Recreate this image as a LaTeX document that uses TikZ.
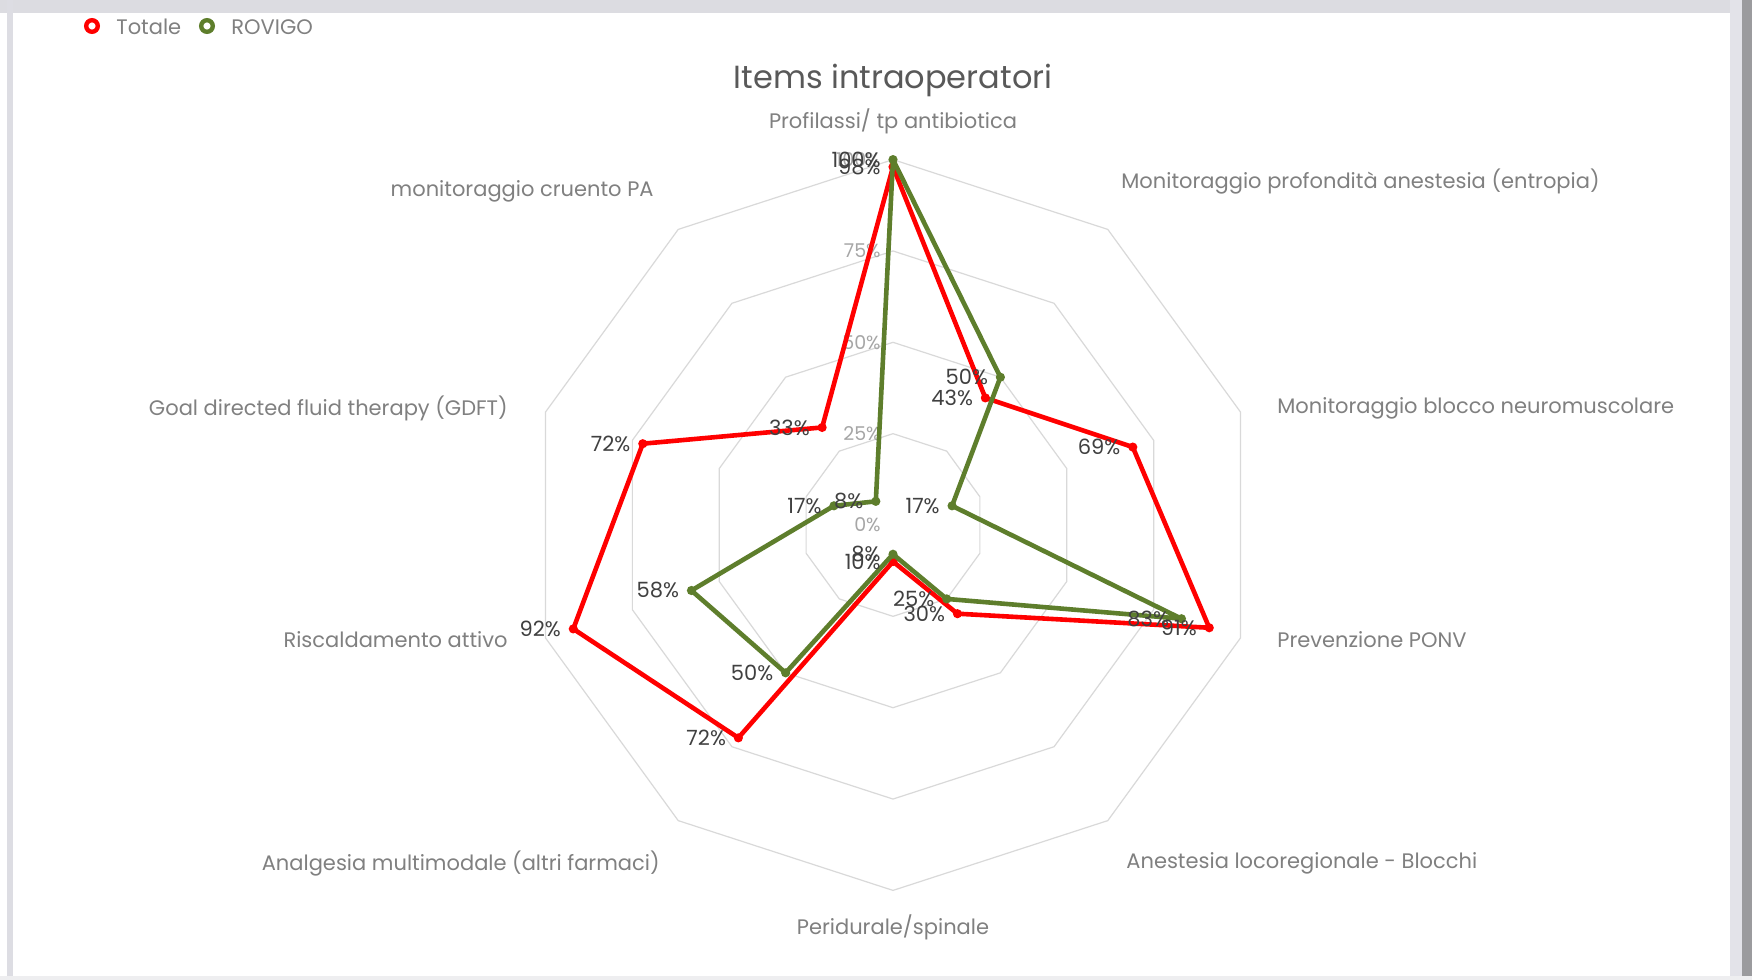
\documentclass[tikz,border=0pt]{standalone}
\usepackage{fontspec}
\setmainfont{Poppins}
\definecolor{totred}{HTML}{FF0000}
\definecolor{rovgreen}{HTML}{5E7E2C}
\definecolor{gridgray}{HTML}{D9D9D9}
\definecolor{axisgray}{HTML}{808080}
\definecolor{ticgray}{HTML}{A6A6A6}
\definecolor{datagray}{HTML}{404040}
\definecolor{titlegray}{HTML}{595959}
\definecolor{frtop}{HTML}{DCDCE1}
\definecolor{frleft}{HTML}{DDDDE3}
\definecolor{frright}{HTML}{E3E3E9}
\definecolor{frdark}{HTML}{9B9B9E}
\definecolor{frbot}{HTML}{EEEEF0}
\tikzset{
  gridline/.style={draw=gridgray, line width=0.6pt},
  totline/.style={draw=totred, line width=2.3pt, line join=round},
  rovline/.style={draw=rovgreen, line width=2.3pt, line join=round},
  axlab/.style={text=axisgray, font=\fontsize{10.5}{12}\selectfont, inner sep=0pt},
  ticlab/.style={text=ticgray, font=\fontsize{9.5}{11}\selectfont, inner sep=0pt, anchor=east},
  datlab/.style={text=datagray, font=\fontsize{10.5}{12}\selectfont, inner sep=0pt, anchor=east, xshift=-6pt},
  legtext/.style={text=axisgray, font=\fontsize{10.5}{12}\selectfont, inner sep=0pt, anchor=west},
}
\begin{document}
\begin{tikzpicture}[x=0.5pt, y=-0.5pt]
\useasboundingbox (0,0) rectangle (1752,980);
\fill[white] (0,0) rectangle (1752,980);
% frame
\fill[frtop] (0,0) rectangle (1752,13);
\fill[frleft] (7,0) rectangle (13,980);
\fill[frright] (1730,0) rectangle (1742,980);
\fill[frdark] (1742,0) rectangle (1752,980);
\fill[frbot] (0,976) rectangle (1752,980);
% legend
\draw[totred, line width=2.2pt, fill=white] (92,26) circle (2.9pt);
\node[legtext] (legt) at (116,27) {Totale};
\draw[rovgreen, line width=2.2pt, fill=white] (207,26) circle (2.9pt);
\node[legtext] (legr) at (231,27) {ROVIGO};
% title
\node[text=titlegray, font=\fontsize{16}{19}\selectfont, inner sep=0pt] (title) at (893,80) {Items intraoperatori};
\begin{scope}[shift={(893,525)}, x=0.5pt, y=0.5pt]
  % grid
  \foreach \k in {0.25,0.5,0.75,1} {
    \draw[gridline] (90:\k*365.4) \foreach \i in {1,...,9} { -- ({90-36*\i}:\k*365.4) } -- cycle;
  }
  \node[ticlab] (g0) at (-12,0) {0\%};
  \node[ticlab] (g25) at (-12,91.35) {25\%};
  \node[ticlab] (g50) at (-12,182.7) {50\%};
  \node[ticlab] (g75) at (-12,274.05) {75\%};
  \node[ticlab] (g100) at (-12,365.4) {100\%};
  % axis labels
  \node[axlab] (a0) at (0,404) {Profilassi/ tp antibiotica};
  \node[axlab, anchor=west] (a1) at (228,343) {Monitoraggio profondità anestesia (entropia)};
  \node[axlab, anchor=west] (a2) at (384,117) {Monitoraggio blocco neuromuscolare};
  \node[axlab, anchor=west] (a3) at (384,-115) {Prevenzione PONV};
  \node[axlab, anchor=west] (a4) at (233,-338) {Anestesia locoregionale - Blocchi};
  \node[axlab] (a5) at (0,-402) {Peridurale/spinale};
  \node[axlab, anchor=east] (a6) at (-233,-339) {Analgesia multimodale (altri farmaci)};
  \node[axlab, anchor=east] (a7) at (-385,-115) {Riscaldamento attivo};
  \node[axlab, anchor=east] (a8) at (-385,117) {Goal directed fluid therapy (GDFT)};
  \node[axlab, anchor=east] (a9) at (-239,334) {monitoraggio cruento PA};
  % data points
  \foreach \v [count=\i from 0] in {98,43,69,91,30,10,72,92,72,33}
    \coordinate (t\i) at ({90-36*\i}:{\v*3.654});
  \foreach \v [count=\i from 0] in {100,50,17,83,25,8,50,58,17,8}
    \coordinate (r\i) at ({90-36*\i}:{\v*3.654});
  \draw[totline] (t0) -- (t1) -- (t2) -- (t3) -- (t4) -- (t5) -- (t6) -- (t7) -- (t8) -- (t9) -- cycle;
  \foreach \i in {0,...,9} \fill[totred] (t\i) circle (2.3pt);
  \draw[rovline] (r0) -- (r1) -- (r2) -- (r3) -- (r4) -- (r5) -- (r6) -- (r7) -- (r8) -- (r9) -- cycle;
  \foreach \i in {0,...,9} \fill[rovgreen] (r\i) circle (2.3pt);
  % data labels
  \foreach \v [count=\i from 0] in {98,43,69,91,30,10,72,92,72,33}
    \node[datlab] (tl\i) at (t\i) {\v\%};
  \foreach \v [count=\i from 0] in {100,50,17,83,25,8,50,58,17,8}
    \node[datlab] (rl\i) at (r\i) {\v\%};
\end{scope}
\end{tikzpicture}
\end{document}
